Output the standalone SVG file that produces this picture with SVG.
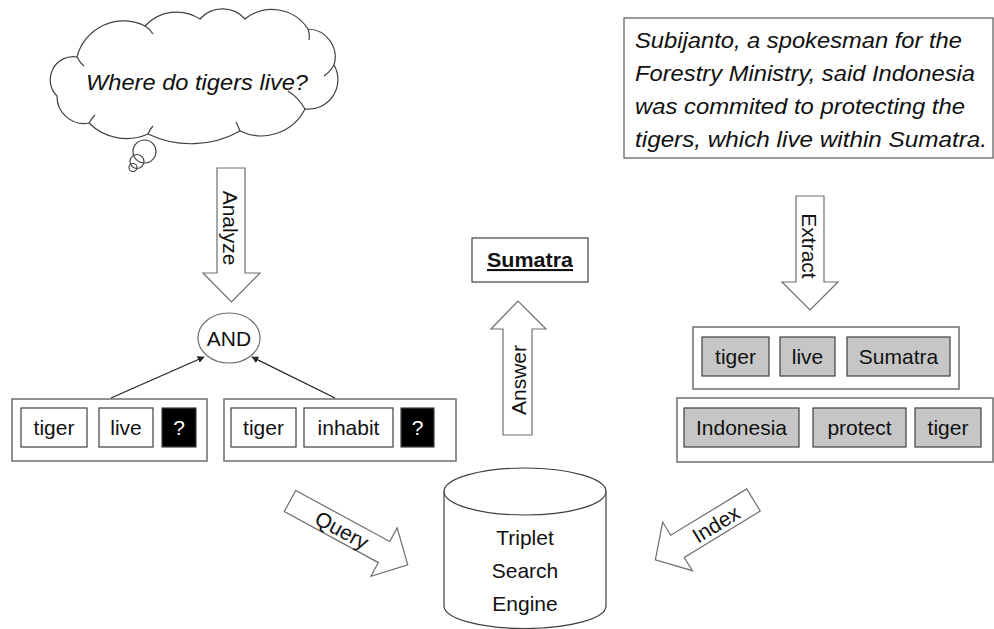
<svg xmlns="http://www.w3.org/2000/svg" width="994" height="629" viewBox="0 0 994 629">
  <defs>
    <marker id="tip" viewBox="0 0 10 10" refX="9" refY="5" markerWidth="7" markerHeight="7" orient="auto" markerUnits="userSpaceOnUse">
      <path d="M0,0 L10,5 L0,10 z" fill="#222"/>
    </marker>
  </defs>
  <style>
    text { font-family: "Liberation Sans", Arial, sans-serif; fill: #111; }
    .lbl { font-size: 21px; text-anchor: middle; }
    .it { font-style: italic; font-size: 22px; }
    .outer { fill: #fff; stroke: #6e6e6e; stroke-width: 1.5; }
    .cell { fill: #fff; stroke: #404040; stroke-width: 1.2; }
    .gray { fill: #c6c6c6; stroke: #404040; stroke-width: 1.2; }
    .dark { fill: #000; stroke: #404040; stroke-width: 1.2; }
    .barrow { fill: #fff; stroke: #6e6e6e; stroke-width: 1.2; stroke-linejoin: miter; }
    .edge { stroke: #222; stroke-width: 1.2; fill: none; }
    .thin { fill: none; stroke: #404040; stroke-width: 1.2; }
  </style>

  <rect width="994" height="629" fill="#fff"/>

  <!-- thought cloud with the question -->
  <g id="question">
    <path class="thin" fill="#fff" d="M57,96 A23,23 0 0 1 77,57 A48,48 0 0 1 145,26 A43,43 0 0 1 200,19 A30,30 0 0 1 245,19 A43,43 0 0 1 308,29 A28,28 0 0 1 334,65 A29.5,29.5 0 0 1 305,109 A49,49 0 0 1 240,131 A100,100 0 0 1 148,134 A53,53 0 0 1 89,123 A27,27 0 0 1 57,96 Z"/>
    <path class="thin" d="M77,57 Q80,63 84,66 M145,26 Q150,29 153,34 M308,29 Q310,35 309,40 M334,65 Q330,72 324,76 M305,109 Q298,97 288,91 M240,131 Q238,126 236,122 M148,134 Q150,129 153,126 M89,123 Q92,118 95,115"/>
    <circle class="thin" cx="144.5" cy="151.5" r="11.5"/>
    <circle class="thin" cx="137" cy="161.5" r="7"/>
    <circle class="thin" cx="133" cy="167.5" r="4"/>
    <text class="it" x="86" y="90" font-size="23" textLength="222" lengthAdjust="spacingAndGlyphs">Where do tigers live?</text>
  </g>

  <!-- source sentence -->
  <g id="sentence">
    <rect x="624" y="18" width="369" height="140" fill="#fff" stroke="#595959" stroke-width="1.2"/>
    <text class="it" x="635" y="48" textLength="327" lengthAdjust="spacingAndGlyphs">Subijanto, a spokesman for the</text>
    <text class="it" x="635" y="81" textLength="340" lengthAdjust="spacingAndGlyphs">Forestry Ministry, said Indonesia</text>
    <text class="it" x="635" y="114" textLength="330" lengthAdjust="spacingAndGlyphs">was commited to protecting the</text>
    <text class="it" x="635" y="147" textLength="352" lengthAdjust="spacingAndGlyphs">tigers, which live within Sumatra.</text>
  </g>

  <!-- block arrows -->
  <g id="analyze">
    <polygon class="barrow" points="217,168 245,168 245,273 260,273 231.5,302 203,273 217,273"/>
    <text class="lbl" font-size="23" transform="translate(230,228) rotate(90)" dominant-baseline="central">Analyze</text>
  </g>
  <g id="extract">
    <polygon class="barrow" points="796,196 824,196 824,282 838,282 810,310 782,282 796,282"/>
    <text class="lbl" font-size="23" transform="translate(809,246) rotate(90)" dominant-baseline="central">Extract</text>
  </g>
  <g id="answer">
    <polygon class="barrow" points="503,435 532,435 532,329 546,329 518,301 491,329 503,329"/>
    <text class="lbl" font-size="22" transform="translate(518,380) rotate(-90)" dominant-baseline="central">Answer</text>
  </g>
  <g id="query">
    <polygon class="barrow" transform="translate(290,501) rotate(28.5)" points="0,-12 107,-12 107,-27.5 134,0 107,27.5 107,12 0,12"/>
    <text class="lbl" font-size="24" transform="translate(342,530) rotate(28.5)" dominant-baseline="central">Query</text>
  </g>
  <g id="index">
    <polygon class="barrow" transform="translate(753.5,500) rotate(148.6)" points="0,-13 89,-13 89,-28.5 115,0 89,28.5 89,13 0,13"/>
    <text class="lbl" font-size="24" transform="translate(716,524) rotate(-31.4)" dominant-baseline="central">Index</text>
  </g>

  <!-- answer result -->
  <g id="result">
    <rect x="472" y="238" width="116" height="44" fill="#fff" stroke="#404040" stroke-width="1.2"/>
    <text class="lbl" x="530" y="267" font-size="22" font-weight="bold" text-decoration="underline" textLength="86" lengthAdjust="spacingAndGlyphs">Sumatra</text>
  </g>

  <!-- AND node -->
  <g id="and">
    <ellipse cx="229" cy="338" rx="31" ry="25" fill="#fff" stroke="#6e6e6e" stroke-width="1.2"/>
    <text class="lbl" x="229" y="346">AND</text>
  </g>

  <!-- query triples -->
  <g id="query-triple-1">
    <rect class="outer" x="12" y="399" width="195" height="62"/>
    <rect class="cell" x="21" y="408" width="66" height="39"/>
    <text class="lbl" x="54" y="435">tiger</text>
    <rect class="cell" x="99" y="408" width="54" height="39"/>
    <text class="lbl" x="126" y="435">live</text>
    <rect class="dark" x="162" y="408" width="34" height="39"/>
    <text class="lbl" x="179" y="435" style="fill:#fff">?</text>
  </g>
  <g id="query-triple-2">
    <rect class="outer" x="224" y="399" width="232" height="62"/>
    <rect class="cell" x="231" y="408" width="65" height="39"/>
    <text class="lbl" x="263.5" y="435">tiger</text>
    <rect class="cell" x="304" y="408" width="89" height="39"/>
    <text class="lbl" x="348.5" y="435">inhabit</text>
    <rect class="dark" x="401" y="408" width="33" height="39"/>
    <text class="lbl" x="417.5" y="435" style="fill:#fff">?</text>
  </g>

  <!-- extracted triples -->
  <g id="fact-triple-1">
    <rect class="outer" x="693" y="327" width="266" height="62"/>
    <rect class="gray" x="702" y="337" width="67" height="39"/>
    <text class="lbl" x="735.5" y="364">tiger</text>
    <rect class="gray" x="780" y="337" width="55" height="39"/>
    <text class="lbl" x="807.5" y="364">live</text>
    <rect class="gray" x="847" y="337" width="103" height="39"/>
    <text class="lbl" x="898.5" y="364">Sumatra</text>
  </g>
  <g id="fact-triple-2">
    <rect class="outer" x="677" y="398" width="316" height="64"/>
    <rect class="gray" x="684" y="408" width="115" height="39"/>
    <text class="lbl" x="741.5" y="435">Indonesia</text>
    <rect class="gray" x="813" y="408" width="93" height="39"/>
    <text class="lbl" x="859.5" y="435">protect</text>
    <rect class="gray" x="915" y="408" width="66" height="39"/>
    <text class="lbl" x="948" y="435">tiger</text>
  </g>

  <!-- triplet search engine -->
  <g id="engine">
    <path d="M444,491.5 L444,606 A81,22.5 0 0 0 606,606 L606,491.5" fill="#fff" stroke="#404040" stroke-width="1.2"/>
    <ellipse cx="525" cy="491.5" rx="81" ry="23.5" fill="#fff" stroke="#404040" stroke-width="1.2"/>
    <text class="lbl" x="525" y="545" font-size="23">Triplet</text>
    <text class="lbl" x="525" y="578" font-size="23">Search</text>
    <text class="lbl" x="525" y="611" font-size="23">Engine</text>
  </g>

  <!-- connectors -->
  <g id="connectors">
    <line class="edge" x1="111" y1="398" x2="204" y2="357" marker-end="url(#tip)"/>
    <line class="edge" x1="335" y1="398" x2="252" y2="357" marker-end="url(#tip)"/>
  </g>
</svg>
